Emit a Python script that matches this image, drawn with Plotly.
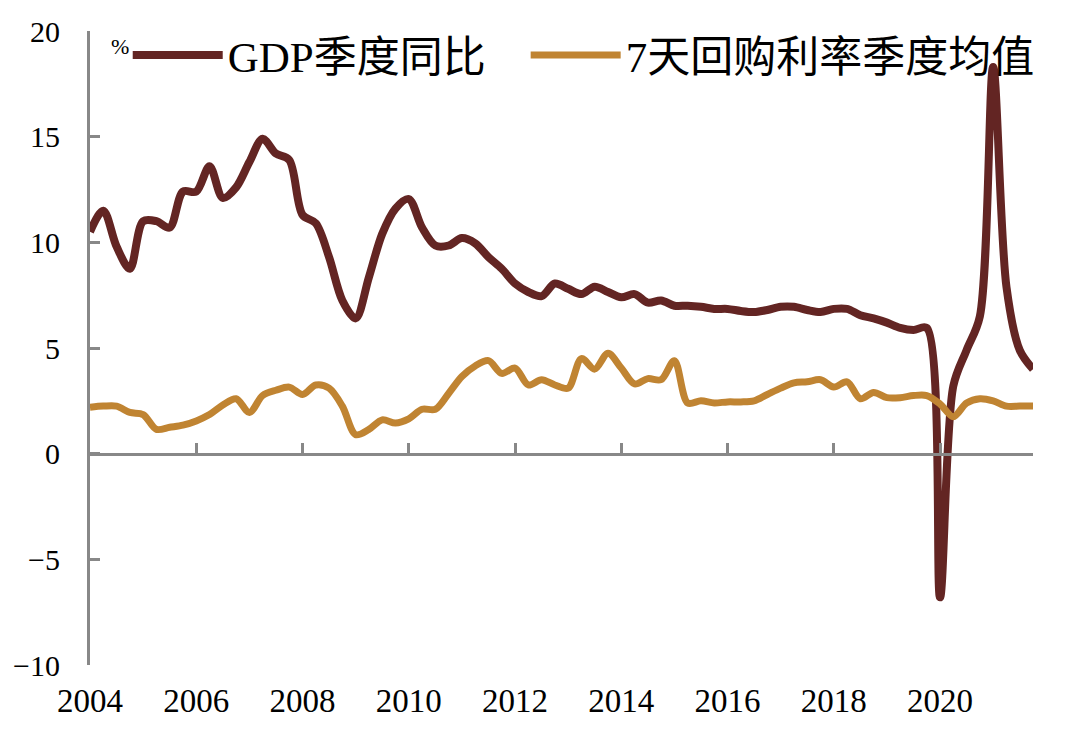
import plotly.graph_objects as go

# ---- data (quarterly, 2004Q1 - 2021Q4) ----
years = list(range(2004, 2022))
quarter_pos = [0.0, 0.25, 0.5, 0.75]  # position of Q1..Q4 inside a year

gdp_yoy = [
    10.5, 11.5, 9.8, 8.75,      # 2004
    11.0, 11.0, 10.7, 12.4,     # 2005
    12.4, 13.6, 12.1, 12.6,     # 2006
    13.8, 14.9, 14.2, 13.9,     # 2007
    11.3, 10.9, 9.3, 7.25,      # 2008
    6.4, 8.35, 10.4, 11.6,      # 2009
    12.05, 10.7, 9.85, 9.85,    # 2010
    10.2, 9.95, 9.3, 8.75,      # 2011
    8.05, 7.65, 7.45, 8.05,     # 2012
    7.8, 7.55, 7.9, 7.65,       # 2013
    7.4, 7.55, 7.15, 7.25,      # 2014
    7.0, 7.0, 6.95, 6.85,       # 2015
    6.85, 6.75, 6.7, 6.8,       # 2016
    6.95, 6.95, 6.8, 6.7,       # 2017
    6.85, 6.85, 6.55, 6.4,      # 2018
    6.2, 5.95, 5.85, 5.95,      # 2019
    -6.8, 3.2, 4.9, 6.5,        # 2020
    18.3, 7.9, 4.9, 4.0,        # 2021
]

repo7d_avg = [
    2.2, 2.25, 2.25, 1.95,      # 2004
    1.85, 1.15, 1.25, 1.35,     # 2005
    1.55, 1.85, 2.3, 2.6,       # 2006
    1.95, 2.75, 3.0, 3.15,      # 2007
    2.8, 3.25, 3.1, 2.25,       # 2008
    0.9, 1.15, 1.6, 1.45,       # 2009
    1.65, 2.1, 2.1, 2.85,       # 2010
    3.65, 4.15, 4.4, 3.8,       # 2011
    4.05, 3.25, 3.5, 3.25,      # 2012
    3.1, 4.5, 4.0, 4.75,        # 2013
    4.05, 3.3, 3.55, 3.5,       # 2014
    4.4, 2.4, 2.5, 2.4,         # 2015
    2.45, 2.45, 2.5, 2.8,       # 2016
    3.1, 3.35, 3.4, 3.5,        # 2017
    3.15, 3.4, 2.6, 2.9,        # 2018
    2.65, 2.65, 2.75, 2.75,     # 2019
    2.35, 1.75, 2.4, 2.6,       # 2020
    2.5, 2.25, 2.25, 2.25,      # 2021
]

x_ticks = [2004, 2006, 2008, 2010, 2012, 2014, 2016, 2018, 2020]
y_ticks = [-10, -5, 0, 5, 10, 15, 20]

series_names = ["GDP季度同比", "7天回购利率季度均值"]
unit_label = "%"

# ---- styles ----
GDP_COLOR = "#632523"
REPO_COLOR = "#C08432"
AXIS_COLOR = "#888888"
SERIF = "Liberation Serif, 'Noto Sans CJK SC', serif"

x_vals = [y + q for y in years for q in quarter_pos]

fig = go.Figure()
fig.add_trace(go.Scatter(
    x=x_vals, y=gdp_yoy, name=series_names[0], mode="lines",
    line=dict(color=GDP_COLOR, width=8, shape="spline", smoothing=0.9),
    xaxis="x", yaxis="y", legend="legend",
))
fig.add_trace(go.Scatter(
    x=x_vals, y=repo7d_avg, name=series_names[1], mode="lines",
    line=dict(color=REPO_COLOR, width=7, shape="spline", smoothing=0.9),
    xaxis="x2", yaxis="y", legend="legend2",
))

x_range = [x_vals[0], x_vals[-1]]
y_range = [y_ticks[0], y_ticks[-1]]
zero_pos = (0 - y_range[0]) / (y_range[1] - y_range[0])

legend_style = dict(
    orientation="h", y=0.962, xanchor="left", yanchor="middle",
    font=dict(family=SERIF, size=43, color="black"),
    bgcolor="rgba(0,0,0,0)", itemwidth=90,
)

fig.update_layout(
    width=1066, height=751, autosize=False,
    margin=dict(l=82, r=41, t=23, b=94, autoexpand=False),
    paper_bgcolor="white", plot_bgcolor="white",
    font=dict(family=SERIF, color="black"),
    showlegend=True,
    legend=dict(x=0.040, **legend_style),
    legend2=dict(x=0.462, **legend_style),
    xaxis=dict(
        range=x_range, anchor="free", position=zero_pos, side="bottom",
        showline=True, linecolor=AXIS_COLOR, linewidth=3,
        ticks="inside", ticklen=10, tickwidth=3, tickcolor=AXIS_COLOR,
        tickvals=x_ticks, showticklabels=False,
        showgrid=False, zeroline=False, automargin=False,
    ),
    xaxis2=dict(
        range=x_range, matches="x", overlaying="x", anchor="y", side="bottom",
        showline=False, ticks="", tickvals=x_ticks,
        ticktext=[str(t) for t in x_ticks],
        tickfont=dict(family="Liberation Serif", size=33, color="black"),
        ticklabelstandoff=13,
        showgrid=False, zeroline=False, automargin=False,
    ),
    yaxis=dict(
        range=y_range, tickvals=y_ticks,
        showline=True, linecolor=AXIS_COLOR, linewidth=3,
        ticks="inside", ticklen=10, tickwidth=3, tickcolor=AXIS_COLOR,
        tickfont=dict(family="Liberation Serif", size=30, color="black"),
        ticklabelstandoff=21,
        showgrid=False, zeroline=False, automargin=False,
    ),
    annotations=[dict(
        text=unit_label, xref="paper", yref="paper", x=0.032, y=0.975,
        xanchor="center", yanchor="middle", showarrow=False,
        font=dict(family="Liberation Serif", size=22, color="black"),
    )],
)

fig.write_html("out.html")
